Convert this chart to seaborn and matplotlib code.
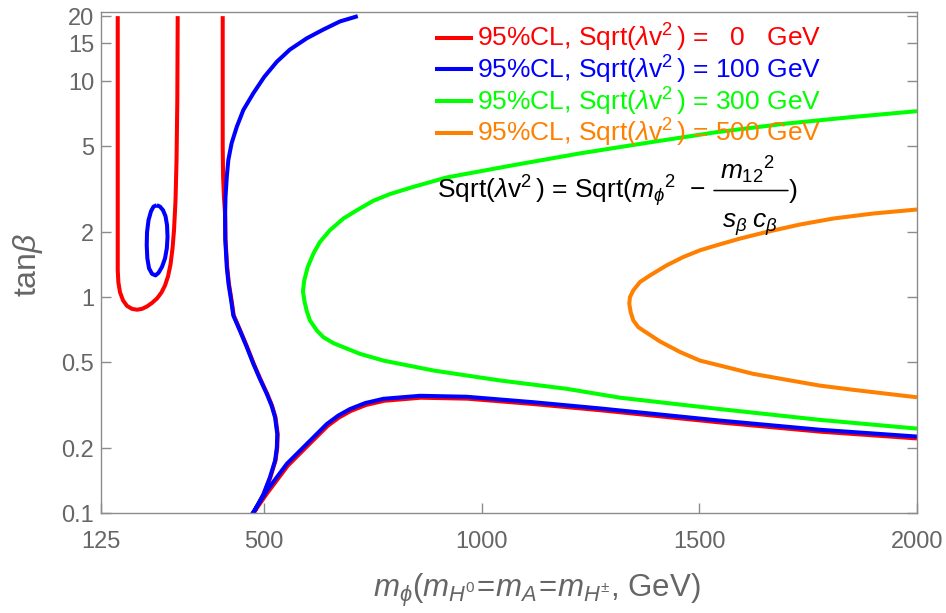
import numpy as np
import pandas as pd
import matplotlib
matplotlib.use('Agg')
import matplotlib.pyplot as plt
import seaborn as sns
from matplotlib.ticker import NullLocator

# ---------------------------------------------------------------------------
# digitised contours (m_phi in GeV, tan beta)
# ---------------------------------------------------------------------------

# Sqrt(lambda v^2) = 0 GeV : U-shaped contour on the left
red_u_m = [163.4, 163.4, 164.8, 168.7, 175.6, 184.7, 196.2, 207.7, 219.2, 230.7, 242.2, 253.7, 264,
           272.1, 279, 284.7, 289.3, 292.7, 296.2, 298.5, 300.3, 301.2]
red_u_t = [20, 1.33, 1.17, 1.051, 0.965, 0.91, 0.882, 0.874, 0.882, 0.905, 0.94, 0.986, 1.051,
           1.133, 1.248, 1.418, 1.683, 2.04, 2.81, 4.31, 8.18, 20]

# Sqrt(lambda v^2) = 0 GeV : main contour
red_m = [404.6, 404.6, 405.5, 407.5, 410.5, 411, 415, 419, 425, 430, 445, 461, 476, 491, 507, 518, 526,
         531, 530, 526, 514, 499, 476, 472,
         508, 554, 600, 646, 672, 699, 734, 776, 860, 967, 1120, 1274, 1549, 1779, 2000]
red_t = [20, 5.0, 3.6, 2.9, 2.34, 1.85, 1.375, 1.15, 0.965, 0.822, 0.70, 0.586, 0.491, 0.418, 0.356,
         0.314, 0.277, 0.232, 0.201, 0.175, 0.146, 0.122, 0.1, 0.098,
         0.1245, 0.1655, 0.205, 0.2535, 0.277, 0.297, 0.3165, 0.331, 0.342, 0.3385, 0.3195, 0.299,
         0.2625, 0.238, 0.2215]

# Sqrt(lambda v^2) = 100 GeV : main contour
blue_m = [715, 674, 635, 598, 559, 529, 500, 475, 452, 437, 425, 417.5, 414, 411, 410, 410.5, 414, 418,
          424, 429, 444, 460, 475, 490, 506, 517, 525, 530, 529, 525, 513, 498, 475, 471,
          506, 552, 598, 644, 670, 697, 732, 774, 858, 965, 1118, 1272, 1547, 1777, 2000]
blue_t = [20, 18.9, 17.3, 15.8, 14.0, 12.3, 10.46, 8.79, 7.35, 6.15, 5.15, 4.31, 3.61, 2.9, 2.34, 1.85,
          1.375, 1.15, 0.965, 0.822, 0.70, 0.586, 0.491, 0.418, 0.356, 0.314, 0.277, 0.232, 0.201, 0.175,
          0.146, 0.122, 0.1, 0.098,
          0.127, 0.169, 0.209, 0.2585, 0.2825, 0.303, 0.323, 0.338, 0.349, 0.3455, 0.326, 0.305, 0.268,
          0.243, 0.226]

# Sqrt(lambda v^2) = 100 GeV : small closed island
blue_ell_m = [253, 260.6, 267.5, 273.2, 276.7, 277.8, 276.2, 272.1, 265.2, 257.1, 250.2, 242.2, 235.3,
              231.4, 230, 230.7, 234.1, 239.9, 245.6, 253]
blue_ell_t = [2.665, 2.623, 2.525, 2.368, 2.151, 1.892, 1.683, 1.512, 1.381, 1.295, 1.26, 1.281, 1.359,
              1.512, 1.738, 1.996, 2.27, 2.498, 2.623, 2.665]

# Sqrt(lambda v^2) = 300 GeV
green_m = [2000, 1851, 1696, 1541, 1387, 1226, 1072, 919, 843, 789, 751, 713, 682, 651, 628, 613, 600,
           592, 589, 593, 598, 605, 621, 636, 659, 682, 720, 774, 889, 1042, 1195, 1318, 1547, 1777, 2000]
green_t = [7.26, 6.82, 6.35, 5.81, 5.21, 4.63, 4.08, 3.58, 3.24, 3.00, 2.795, 2.525, 2.311, 2.04, 1.80,
           1.59, 1.378, 1.195, 1.063, 0.945, 0.858, 0.78, 0.70, 0.652, 0.612, 0.586, 0.546, 0.508, 0.457,
           0.411, 0.376, 0.342, 0.303, 0.270, 0.246]

# Sqrt(lambda v^2) = 500 GeV
orange_m = [2000, 1899.6, 1807.7, 1731.2, 1654.6, 1593.3, 1539.8, 1501.4, 1463, 1424.9, 1386.5, 1363.5,
            1348.1, 1340.5, 1338.9, 1342.1, 1348.1, 1359.6, 1371.1, 1409.5, 1455.4, 1501.4, 1547.3,
            1623.9, 1700.6, 1777.1, 1853.6, 2000]
orange_t = [2.544, 2.438, 2.311, 2.168, 2.003, 1.866, 1.738, 1.647, 1.533, 1.403, 1.26, 1.174, 1.074, 1.0,
            0.932, 0.852, 0.78, 0.726, 0.70, 0.623, 0.557, 0.508, 0.482, 0.441, 0.414, 0.389, 0.372, 0.3435]

labels = [r'95%CL, Sqrt($\lambda\mathrm{v}^{2}\,$) =   0   GeV',
          r'95%CL, Sqrt($\lambda\mathrm{v}^{2}\,$) = 100 GeV',
          r'95%CL, Sqrt($\lambda\mathrm{v}^{2}\,$) = 300 GeV',
          r'95%CL, Sqrt($\lambda\mathrm{v}^{2}\,$) = 500 GeV']
colors = ['#ff0000', '#0000ff', '#00ff00', '#ff8000']

x_ticks = [125, 500, 1000, 1500, 2000]
y_ticks = [0.1, 0.2, 0.5, 1, 2, 5, 10, 15, 20]
y_tick_labels = ['0.1', '0.2', '0.5', '1', '2', '5', '10', '15', '20']

# ---------------------------------------------------------------------------
# style
# ---------------------------------------------------------------------------
sns.set_style('ticks')
plt.rcParams['font.family'] = ['Liberation Sans', 'DejaVu Sans']
plt.rcParams['mathtext.fontset'] = 'custom'
plt.rcParams['mathtext.rm'] = 'Liberation Sans'
plt.rcParams['mathtext.it'] = 'Liberation Sans:italic'
plt.rcParams['mathtext.bf'] = 'Liberation Sans:bold'

axis_grey = '#8c8c8c'
text_grey = '#666666'
lw = 2.9
fs_leg = 19.0

fig, ax = plt.subplots(figsize=(9.46, 6.13), dpi=100)
fig.subplots_adjust(left=0.1068, right=0.9693, top=0.9804, bottom=0.1631)

def draw(m, t, color, label='_nolegend_'):
    df = pd.DataFrame({'m': m, 't': t})
    sns.lineplot(data=df, x='m', y='t', sort=False, estimator=None, color=color,
                 linewidth=lw, label=label, ax=ax, solid_joinstyle='round', solid_capstyle='butt')

draw(red_u_m, red_u_t, colors[0], labels[0])
draw(red_m, red_t, colors[0])
draw(blue_m, blue_t, colors[1], labels[1])
draw(blue_ell_m, blue_ell_t, colors[1])
draw(green_m, green_t, colors[2], labels[2])
draw(orange_m, orange_t, colors[3], labels[3])

ax.set_yscale('log')
ax.set_xlim(125, 2000)
ax.set_ylim(0.1, 20.9)
ax.set_xticks(x_ticks)
ax.set_xticklabels([str(v) for v in x_ticks])
ax.set_yticks(y_ticks)
ax.set_yticklabels(y_tick_labels)
ax.yaxis.set_minor_locator(NullLocator())
ax.xaxis.set_minor_locator(NullLocator())

for side in ['left', 'right', 'top', 'bottom']:
    ax.spines[side].set_visible(True)
    ax.spines[side].set_color(axis_grey)
    ax.spines[side].set_linewidth(1.0)

ax.tick_params(axis='both', direction='in', length=7, width=1, color=axis_grey,
               labelcolor=text_grey, labelsize=17)
ax.tick_params(axis='y', right=True, pad=5)
ax.tick_params(axis='x', top=False, pad=13)

ax.set_xlabel(r'$m_\phi(m_{H^0}\!=\!m_A\!=\!m_{H^{\pm}}$, GeV)', fontsize=22.5, color=text_grey, va='center')
ax.xaxis.set_label_coords(0.534, -0.1537)
ax.set_ylabel(r'tan$\beta$', fontsize=23, color=text_grey, va='center')
ax.yaxis.set_label_coords(-0.0895, 0.495)

leg = ax.legend(loc='upper left', bbox_to_anchor=(0.409, 0.98), frameon=False, fontsize=fs_leg,
                handlelength=1.45, handletextpad=0.15, labelspacing=-0.02, borderpad=0,
                borderaxespad=0, labelcolor='linecolor')

# formula with a full-size fraction
ax.text(0.4118, 0.6287, r'Sqrt($\lambda\mathrm{v}^{2}\,$) = Sqrt($m_\phi{}^{2}\;\,-$',
        transform=ax.transAxes, fontsize=fs_leg, color='black', ha='left', va='baseline')
ax.text(0.7917, 0.6667, r'$m_{12}{}^{2}$', transform=ax.transAxes, fontsize=fs_leg,
        color='black', ha='center', va='baseline')
ax.annotate('', xy=(0.8419, 0.6437), xytext=(0.7512, 0.6437), xycoords='axes fraction',
            arrowprops=dict(arrowstyle='-', color='black', lw=1.1, shrinkA=0, shrinkB=0))
ax.text(0.7953, 0.5689, r'$s_\beta\;c_\beta$', transform=ax.transAxes, fontsize=fs_leg,
        color='black', ha='center', va='baseline')
ax.text(0.8431, 0.6287, ')', transform=ax.transAxes, fontsize=fs_leg, color='black',
        ha='left', va='baseline')

plt.savefig('out.png', dpi=100)
